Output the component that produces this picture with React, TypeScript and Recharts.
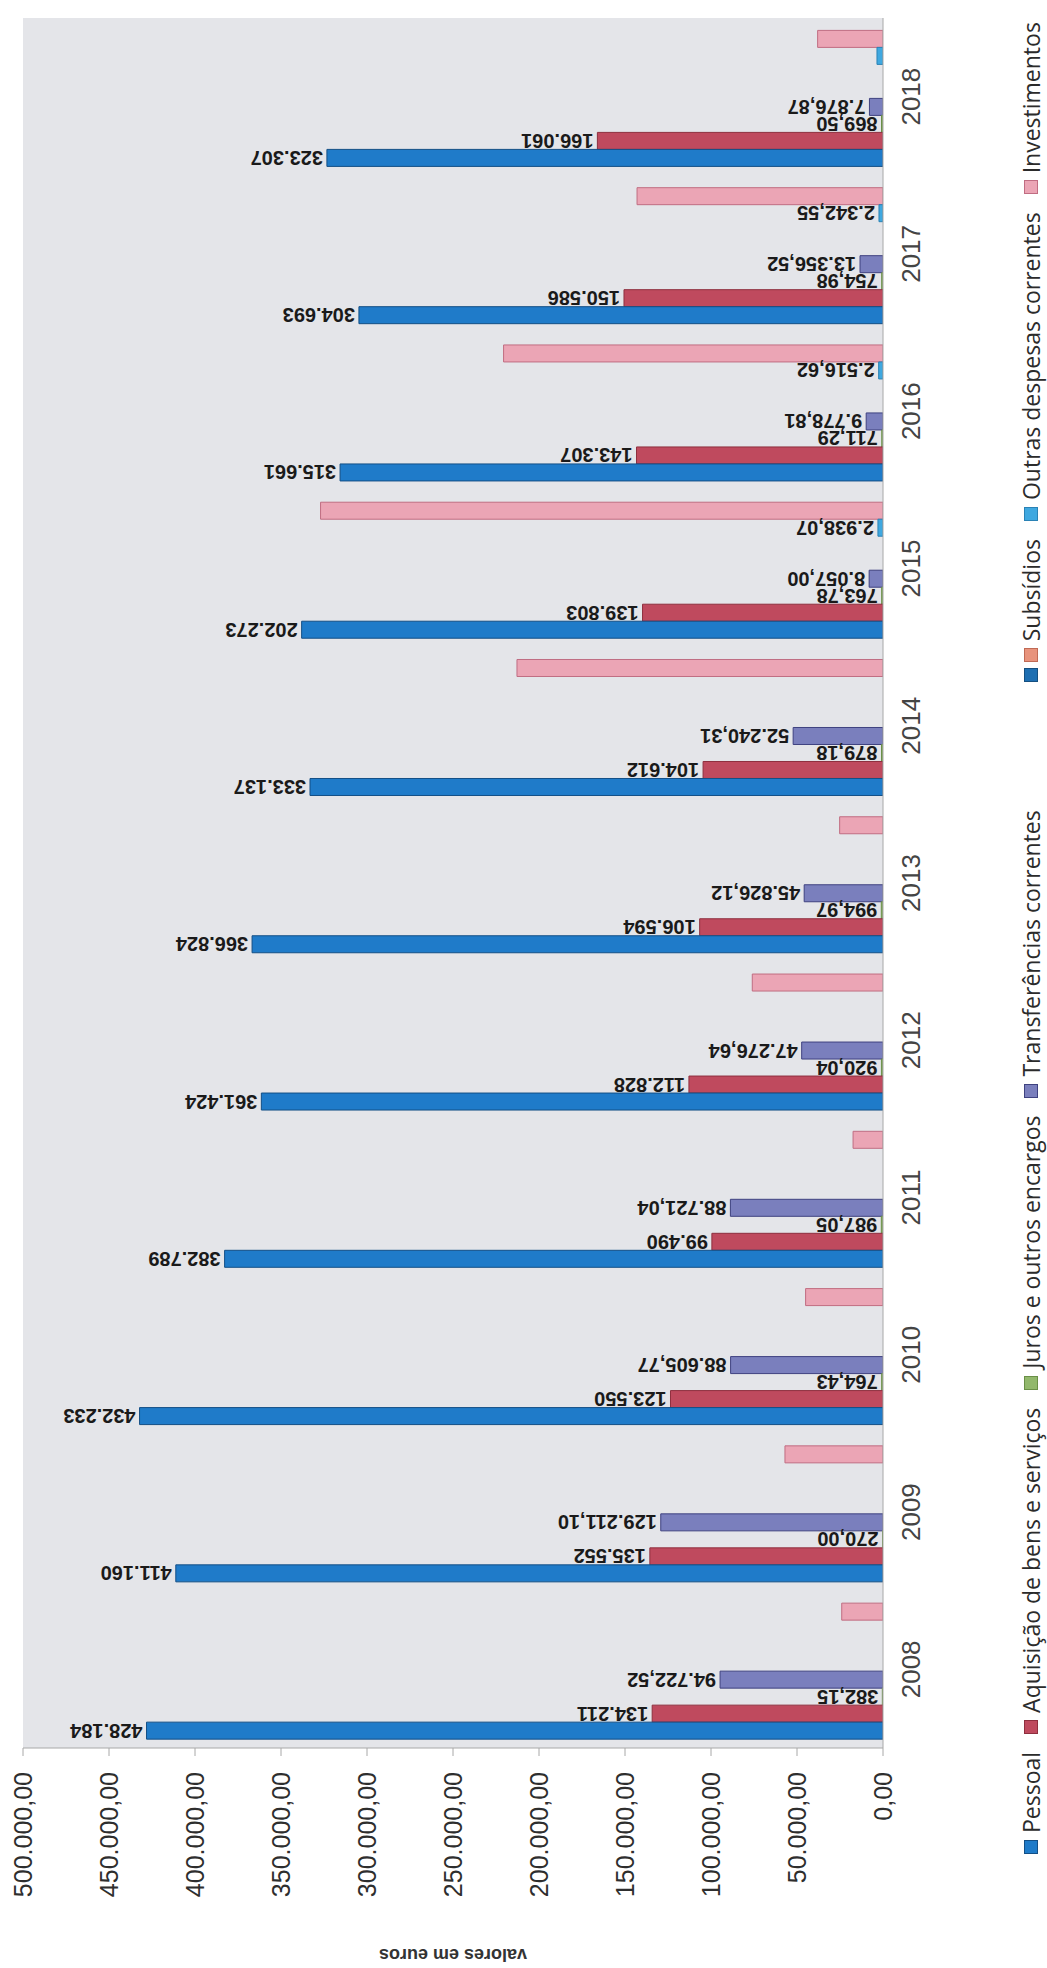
import React from 'react';
import { BarChart, Bar, XAxis, YAxis, CartesianGrid, Legend, LabelList } from 'recharts';

// ---------- data ----------
const years = ['2008', '2009', '2010', '2011', '2012', '2013', '2014', '2015', '2016', '2017', '2018'];

const pessoal = [428184, 411160, 432233, 382789, 361424, 366824, 333137, 338000, 315661, 304693, 323307];
const pessoalLabels = ['428.184', '411.160', '432.233', '382.789', '361.424', '366.824', '333.137', '202.273', '315.661', '304.693', '323.307'];

const aquisicao = [134211, 135552, 123550, 99490, 112828, 106594, 104612, 139803, 143307, 150586, 166061];
const aquisicaoLabels = ['134.211', '135.552', '123.550', '99.490', '112.828', '106.594', '104.612', '139.803', '143.307', '150.586', '166.061'];

const juros = [382.15, 270.0, 764.43, 987.05, 920.04, 994.97, 879.18, 763.78, 711.29, 754.98, 869.5];
const jurosLabels = ['382,15', '270,00', '764,43', '987,05', '920,04', '994,97', '879,18', '763,78', '711,29', '754,98', '869,50'];

const transferencias = [94722.52, 129211.1, 88605.77, 88721.04, 47276.64, 45826.12, 52240.31, 8057.0, 9778.81, 13356.52, 7876.87];
const transferenciasLabels = ['94.722,52', '129.211,10', '88.605,77', '88.721,04', '47.276,64', '45.826,12', '52.240,31', '8.057,00', '9.778,81', '13.356,52', '7.876,87'];

const semNome: (number | null)[] = [null, null, null, null, null, null, null, null, null, null, null];
const subsidios: (number | null)[] = [null, null, null, null, null, null, null, null, null, null, null];

const outras: (number | null)[] = [null, null, null, null, null, null, null, 2938.07, 2516.62, 2342.55, 3500];
const outrasLabels = ['', '', '', '', '', '', '', '2.938,07', '2.516,62', '2.342,55', ''];

const investimentos = [24000, 57000, 45000, 17400, 76000, 25200, 212800, 327000, 220600, 143000, 38000];

const xTicks = [0, 50000, 100000, 150000, 200000, 250000, 300000, 350000, 400000, 450000, 500000];

// legend order (bottom -> top as drawn)
const series = [
  { key: 'pessoal', name: 'Pessoal', fill: '#1f7bc9', stroke: '#134f86' },
  { key: 'aquisicao', name: 'Aquisição de bens e serviços', fill: '#bf4a5e', stroke: '#8e2f3e' },
  { key: 'juros', name: 'Juros e outros encargos', fill: '#92b86c', stroke: '#6a8f47' },
  { key: 'transferencias', name: 'Transferências correntes', fill: '#7a7fbd', stroke: '#3f4280' },
  { key: 'semNome', name: '', fill: '#1e6fb2', stroke: '#154f80' },
  { key: 'subsidios', name: 'Subsídios', fill: '#e8937c', stroke: '#c06a55' },
  { key: 'outras', name: 'Outras despesas correntes', fill: '#3fa8e0', stroke: '#2a82b5' },
  { key: 'investimentos', name: 'Investimentos', fill: '#eba5b5', stroke: '#c06d82' },
];

const data = years.map((year, i) => ({
  year,
  pessoal: pessoal[i],
  pessoalLabel: pessoalLabels[i],
  aquisicao: aquisicao[i],
  aquisicaoLabel: aquisicaoLabels[i],
  juros: juros[i],
  jurosLabel: jurosLabels[i],
  transferencias: transferencias[i],
  transferenciasLabel: transferenciasLabels[i],
  semNome: semNome[i],
  subsidios: subsidios[i],
  outras: outras[i],
  outrasLabel: outrasLabels[i],
  investimentos: investimentos[i],
}));

// ---------- helpers ----------
const fmtTick = (v: number) => Math.round(v).toString().replace(/\B(?=(\d{3})+(?!\d))/g, '.') + ',00';

const XTick = (props: any) => {
  const { x, y, payload } = props;
  const ty = y + 14;
  return (
    <text
      x={x}
      y={ty}
      transform={`rotate(-90, ${x}, ${ty})`}
      textAnchor="end"
      dominantBaseline="central"
      fontSize={25}
      fontFamily='"Liberation Sans", Arial, sans-serif'
      fill="#2e2e2e"
    >
      {fmtTick(payload.value)}
    </text>
  );
};

const YTick = (props: any) => {
  const { x, y, payload } = props;
  const tx = x + 20;
  return (
    <text
      x={tx}
      y={y}
      transform={`rotate(-90, ${tx}, ${y})`}
      textAnchor="middle"
      dominantBaseline="central"
      fontSize={26}
      fontFamily='"Liberation Sans", Arial, sans-serif'
      fill="#444"
    >
      {payload.value}
    </text>
  );
};

const barLabel = (props: any) => {
  const { value } = props;
  if (value === undefined || value === null || value === '') return null;
  const vb = props.viewBox && props.viewBox.width !== undefined ? props.viewBox : props;
  const x0 = Math.min(vb.x, vb.x + vb.width);
  const cy = vb.y + vb.height / 2;
  const lx = x0 - 4;
  return (
    <text
      x={lx}
      y={cy}
      transform={`rotate(180, ${lx}, ${cy})`}
      textAnchor="start"
      dominantBaseline="central"
      fontSize={20}
      fontWeight="bold"
      fontFamily='"Liberation Sans", Arial, sans-serif'
      fill="#1a1a1a"
    >
      {value}
    </text>
  );
};

const titleContent = (props: any) => {
  const vb = props.viewBox;
  const cx = vb.x + vb.width / 2;
  const cy = vb.y + vb.height - 8;
  return (
    <text
      x={cx}
      y={cy}
      transform={`rotate(180, ${cx}, ${cy})`}
      textAnchor="middle"
      dominantBaseline="central"
      fontSize={18}
      fontWeight="bold"
      fontFamily='"Liberation Sans", Arial, sans-serif'
      fill="#333"
    >
      valores em euros
    </text>
  );
};

const renderLegend = () => (
  <div
    style={{
      position: 'absolute',
      left: 1016,
      top: 1862,
      width: 1862,
      height: 30,
      transform: 'rotate(-90deg)',
      transformOrigin: '0 0',
      display: 'flex',
      alignItems: 'center',
      paddingLeft: 8,
      boxSizing: 'border-box',
      fontFamily: '"Open Sans", sans-serif',
      fontSize: 23,
      color: '#2b2b2b',
      whiteSpace: 'nowrap',
    }}
  >
    {series.map((s) => (
      <span
        key={s.key}
        style={{
          display: 'inline-flex',
          alignItems: 'center',
          flexShrink: 0,
          marginRight: s.name ? 18 : 6,
          marginLeft: s.name ? 0 : 110,
        }}
      >
        <span
          style={{
            width: 14,
            height: 14,
            background: s.fill,
            border: `1px solid ${s.stroke}`,
            marginRight: s.name ? 7 : 0,
            display: 'inline-block',
            boxSizing: 'border-box',
          }}
        />
        {s.name}
      </span>
    ))}
  </div>
);

// draw order inside each category: top -> bottom
const drawOrder = ['investimentos', 'outras', 'subsidios', 'semNome', 'transferencias', 'juros', 'aquisicao', 'pessoal'];
const labelled: Record<string, string> = {
  pessoal: 'pessoalLabel',
  aquisicao: 'aquisicaoLabel',
  juros: 'jurosLabel',
  transferencias: 'transferenciasLabel',
  outras: 'outrasLabel',
};

export default function App() {
  return (
    <div style={{ position: 'absolute', left: 0, top: 0, width: 1047, height: 1968, background: '#fff' }}>
      <BarChart
        width={1047}
        height={1968}
        data={data}
        layout="vertical"
        margin={{ top: 18, right: 104, bottom: 5, left: 23 }}
        barCategoryGap={12.4}
        barGap={0}
      >
        <CartesianGrid horizontal={false} vertical={false} fill="#e4e5e9" />
        <XAxis
          type="number"
          domain={[0, 500000]}
          ticks={xTicks}
          interval={0}
          reversed
          allowDataOverflow
          height={215}
          tick={<XTick />}
          tickSize={8}
          tickLine={{ stroke: '#a8a8a8' }}
          axisLine={{ stroke: '#a8a8a8' }}
          label={{ value: 'valores em euros', content: titleContent }}
        />
        <YAxis
          type="category"
          dataKey="year"
          orientation="right"
          reversed
          width={60}
          interval={0}
          tick={<YTick />}
          tickLine={false}
          axisLine={{ stroke: '#a8a8a8' }}
        />
        <Legend
          content={renderLegend}
          layout="horizontal"
          verticalAlign="middle"
          align="center"
          wrapperStyle={{ left: 0, top: 0, width: 0, height: 0 }}
        />
        {drawOrder.map((k) => {
          const s = series.find((q) => q.key === k)!;
          return (
            <Bar
              key={k}
              dataKey={k}
              name={s.name}
              fill={s.fill}
              stroke={s.stroke}
              strokeWidth={1}
              isAnimationActive={false}
            >
              {labelled[k] ? <LabelList dataKey={labelled[k]} content={barLabel} /> : null}
            </Bar>
          );
        })}
      </BarChart>
    </div>
  );
}
